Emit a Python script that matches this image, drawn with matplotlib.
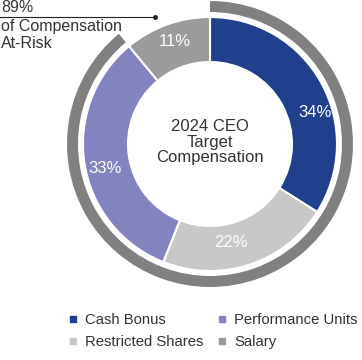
import matplotlib.pyplot as plt
import numpy as np
from matplotlib.lines import Line2D

plt.rcParams["font.family"] = ["Liberation Sans", "DejaVu Sans"]

# Data
categories = ["Cash Bonus", "Restricted Shares", "Performance Units", "Salary"]
shares = [34, 22, 33, 11]
colors = ["#20408e", "#c8c8c8", "#8383bf", "#9b9b9b"]
at_risk = 89
title_lines = "2024 CEO\nTarget\nCompensation"

W, H = 362, 360


def Y(y):
    # pixel row (top-down) -> data y (bottom-up)
    return H - y


fig = plt.figure(figsize=(W / 100, H / 100), dpi=100)
ax = fig.add_axes([0, 0, 1, 1])

cx, cy = 210, Y(144)

# outer ring: share of pay at risk
ax.pie([at_risk, 100 - at_risk], radius=143, center=(cx, cy), startangle=90,
       counterclock=False, colors=["#808080", "none"],
       wedgeprops=dict(width=11, linewidth=0))

# main donut
wedges, _ = ax.pie(shares, radius=127, center=(cx, cy), startangle=90,
                   counterclock=False, colors=colors,
                   wedgeprops=dict(width=45, edgecolor="white", linewidth=1.5))

# percentage labels, nudged a bit like the original
shift = [12, 6, -4, 1]      # degrees, clockwise
rads = [110, 101, 108, 108]
for w, v, s, r in zip(wedges, shares, shift, rads):
    ang = np.deg2rad((w.theta1 + w.theta2) / 2 - s)
    ax.text(cx + r * np.cos(ang), cy + r * np.sin(ang), f"{v}%",
            ha="center", va="center", color="white", fontsize=12)

ax.text(cx, Y(142), title_lines, ha="center", va="center", fontsize=12,
        color="#333333", linespacing=1.08)

# at-risk annotation top-left
ax.text(1, Y(8), f"{at_risk}%", ha="left", va="center", fontsize=11.5, color="#333333")
ax.text(1, Y(27), "of Compensation", ha="left", va="center", fontsize=11.5, color="#333333")
ax.text(1, Y(44), "At-Risk", ha="left", va="center", fontsize=11.5, color="#333333")
ax.plot([0, 155], [Y(17), Y(17)], color="#222222", lw=0.8)
ax.plot([155], [Y(17)], marker="o", ms=2.5, color="#222222")

# legend (columns fill first, so this order gives rows Cash/Performance, Restricted/Salary)
handles = [Line2D([], [], marker="s", ms=5, ls="none", color=c) for c in colors]
ax.legend(handles, categories, ncol=2, loc="center", bbox_to_anchor=(213 / W, 1 - 331 / H),
          frameon=False, fontsize=10.7, handlelength=0.6, handletextpad=0.5,
          columnspacing=1.0, labelspacing=0.5, labelcolor="#333333")

ax.set_xlim(0, W)
ax.set_ylim(0, H)
ax.set_aspect("equal")
ax.axis("off")

fig.savefig("out.png", dpi=100)
